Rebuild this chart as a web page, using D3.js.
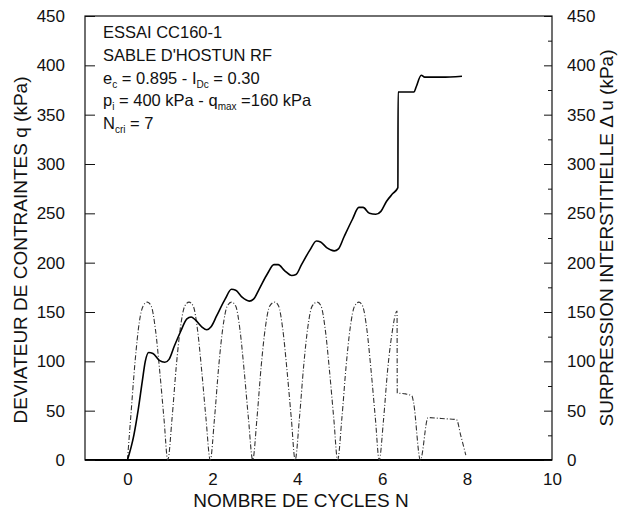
<!DOCTYPE html>
<html><head><meta charset="utf-8">
<script src="https://cdn.jsdelivr.net/npm/d3@7"></script>
<style>body{margin:0;background:#fff}svg{font-family:"Liberation Sans",Arial,sans-serif}</style>
</head><body><svg id="c" width="623" height="522"></svg>
<script>
// x ticks / y ticks
const xTicks = [0, 2, 4, 6, 8, 10];
const yTicks = [0, 50, 100, 150, 200, 250, 300, 350, 400, 450];
const yMinorTicks = [25, 75, 125, 175, 225, 275, 325, 375, 425];

// Deviator q (kPa) vs N (dash-dot curve)
const qN = [0,0.08,0.18,0.28,0.38,0.47,0.56,0.66,0.76,0.86,0.95,
  1.05,1.15,1.25,1.35,1.45,1.55,1.65,1.75,1.85,1.95,
  2.05,2.15,2.25,2.35,2.45,2.55,2.65,2.75,2.85,2.95,
  3.05,3.15,3.25,3.35,3.47,3.56,3.66,3.76,3.86,3.95,
  4.05,4.15,4.25,4.35,4.47,4.56,4.66,4.76,4.86,4.95,
  5.05,5.15,5.25,5.35,5.45,5.54,5.64,5.74,5.84,5.93,
  6.03,6.13,6.23,6.35,6.355,6.55,6.7,6.74,6.9,7.08,7.4,7.75,7.85,7.97];
const qV = [0,45,100,140,157,160,156,132,90,42,0,
  42,95,135,156,160,156,132,90,42,0,
  42,95,135,156,160,156,132,90,42,0,
  42,95,135,156,160,156,132,90,42,0,
  42,95,135,156,160,156,132,90,42,0,
  42,95,135,156,160,156,132,90,42,0,
  40,92,128,151,68,67,65,58,0,43,42,41,25,5];

// Pore pressure Δu (kPa) vs N (solid curve)
const uN = [0,0.15,0.25,0.35,0.42,0.5,0.6,0.75,0.88,0.98,1.1,1.25,1.4,1.5,1.6,1.75,1.87,1.97,2.1,2.3,2.45,2.55,2.7,2.87,2.97,
  3.1,3.3,3.45,3.55,3.7,3.87,3.97,4.1,4.3,4.45,4.55,4.7,4.87,4.97,5.1,5.3,5.45,5.55,5.7,5.85,5.97,6.1,6.25,6.37,6.375,6.55,6.75,6.8,6.92,7.0,7.4,7.88];
const uV = [0,25,50,80,100,109,108,101,99,102,115,130,143,145,142,135,132,135,146,163,173,172,165,161,163,
  173,189,198,198,192,187,188,198,213,222,221,215,212,214,226,244,256,256,250,249,252,262,270,276,373,373,373,378,390,388,388,389];

const legendLines = [
  [["ESSAI CC160-1", 0]],
  [["SABLE D'HOSTUN RF", 0]],
  [["e", 0], ["c", 1], [" = 0.895 - I", 0], ["Dc", 1], [" = 0.30", 0]],
  [["p", 0], ["i", 1], [" = 400 kPa - q", 0], ["max", 1], [" =160 kPa", 0]],
  [["N", 0], ["cri", 1], [" = 7", 0]]
];

const svg = d3.select("#c");
const L = 85, R = 552, T = 16, B = 460;
const x = d3.scaleLinear().domain([-1, 10]).range([L, R]);
const y = d3.scaleLinear().domain([0, 450]).range([B, T]);
const FONT = "Liberation Sans, Arial, sans-serif";

// frame
svg.append("rect").attr("x", L).attr("y", T).attr("width", R - L).attr("height", B - T)
  .attr("fill", "none").attr("stroke", "#111").attr("stroke-width", 1.2);
svg.append("line").attr("x1", L).attr("x2", R).attr("y1", B).attr("y2", B).attr("stroke", "#000").attr("stroke-width", 2);

// left axis
const gl = svg.append("g").attr("transform", `translate(${L},0)`)
  .call(d3.axisLeft(y).tickValues(yTicks).tickSize(-10).tickPadding(20).tickFormat(d3.format("d")));
gl.select(".domain").remove();
gl.selectAll("text").attr("font-size", 17).attr("fill", "#111").attr("font-family", FONT);
gl.selectAll("line").attr("stroke", "#111");
// right axis
const gr = svg.append("g").attr("transform", `translate(${R},0)`)
  .call(d3.axisRight(y).tickValues(yTicks).tickSize(-8).tickPadding(15).tickFormat(d3.format("d")));
gr.select(".domain").remove();
gr.selectAll("text").attr("font-size", 17).attr("fill", "#111").attr("font-family", FONT);
gr.selectAll("line").attr("stroke", "#111");
const grm = svg.append("g").attr("transform", `translate(${R},0)`)
  .call(d3.axisRight(y).tickValues(yMinorTicks).tickSize(-4).tickFormat(""));
grm.select(".domain").remove();
grm.selectAll("line").attr("stroke", "#111");
// bottom axis
const gb = svg.append("g").attr("transform", `translate(0,${B})`)
  .call(d3.axisBottom(x).tickValues(xTicks).tickSize(0).tickPadding(13).tickFormat(d3.format("d")));
gb.select(".domain").remove();
gb.selectAll("text").attr("font-size", 17).attr("fill", "#111").attr("font-family", FONT);

// titles
svg.append("text").attr("x", 301).attr("y", 507).attr("text-anchor", "middle")
  .attr("font-size", 19).attr("fill", "#111").text("NOMBRE DE CYCLES N");
svg.append("text").attr("transform", `translate(27,${(T + B) / 2 + 12}) rotate(-90)`).attr("text-anchor", "middle")
  .attr("font-size", 19).attr("fill", "#111").text("DEVIATEUR DE CONTRAINTES q (kPa)");
svg.append("text").attr("transform", `translate(613,${(T + B) / 2 + 0}) rotate(-90)`).attr("text-anchor", "middle")
  .attr("font-size", 19).attr("fill", "#111").text("SURPRESSION INTERSTITIELLE \u0394 u (kPa)");

// curves
const qData = qN.map((n, i) => [n, qV[i]]);
const uData = uN.map((n, i) => [n, uV[i]]);
const line = d3.line().x(d => x(d[0])).y(d => y(d[1])).curve(d3.curveMonotoneX);
svg.append("path").attr("d", line(qData)).attr("fill", "none").attr("stroke", "#333")
  .attr("stroke-width", 1.1).attr("stroke-dasharray", "5,2,1,2").attr("stroke-linejoin", "round");
svg.append("path").attr("d", line(uData)).attr("fill", "none").attr("stroke", "#000")
  .attr("stroke-width", 1.6).attr("stroke-linejoin", "round");

// legend text
const lg = svg.append("g").attr("font-size", 16.5).attr("fill", "#111");
legendLines.forEach((parts, i) => {
  const t = lg.append("text").attr("x", 103).attr("y", 38 + i * 22.8);
  let shifted = 0;
  parts.forEach(([s, sub]) => {
    const ts = t.append("tspan").text(s);
    if (sub) { ts.attr("font-size", 10).attr("dy", 4); shifted = 4; }
    else { ts.attr("dy", -shifted); shifted = 0; }
  });
});
</script></body></html>
